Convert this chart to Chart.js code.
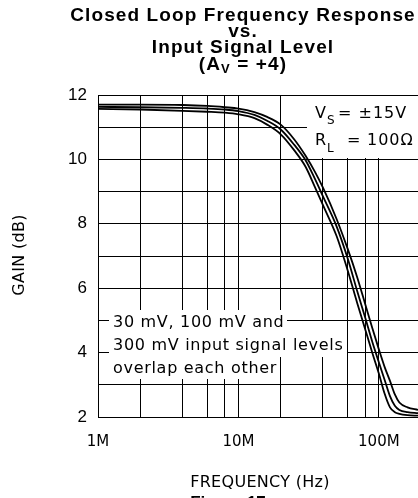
<!DOCTYPE html>
<html>
<head>
<meta charset="utf-8">
<script src="https://cdn.jsdelivr.net/npm/chart.js@4.4.0/dist/chart.umd.min.js"></script>
<style>
  html, body { margin: 0; padding: 0; background: #fff; }
  #wrap { width: 418px; height: 498px; }
</style>
</head>
<body>
<div id="wrap"><canvas id="chart" width="418" height="498"></canvas></div>
<script>
// frequency in MHz
const freqMHz = [1, 2, 4, 6, 8, 10, 13, 16, 20, 25, 30, 35, 40, 50, 60, 70, 80, 90, 100, 110, 120, 130, 140, 160, 190];

// three input levels, they overlap so only read as upper / middle / lower trace
const gainUpper = [11.70, 11.70, 11.69, 11.66, 11.62, 11.58, 11.47, 11.32, 11.08, 10.62, 10.12, 9.62, 9.12, 8.15, 7.22, 6.35, 5.50, 4.75, 4.10, 3.55, 3.12, 2.70, 2.45, 2.30, 2.22];
const gainMiddle = [11.63, 11.62, 11.60, 11.58, 11.55, 11.50, 11.38, 11.20, 10.93, 10.45, 9.98, 9.40, 8.85, 7.92, 6.92, 5.92, 5.08, 4.32, 3.70, 3.15, 2.65, 2.35, 2.22, 2.15, 2.12];
const gainLower = [11.57, 11.55, 11.51, 11.48, 11.45, 11.40, 11.28, 11.08, 10.78, 10.28, 9.78, 9.15, 8.58, 7.62, 6.55, 5.55, 4.72, 3.98, 3.35, 2.72, 2.30, 2.15, 2.10, 2.06, 2.04];

const freqGrid = [1, 2, 4, 6, 8, 10, 20, 40, 60, 80, 100];
const freqTicks = [1, 10, 100];
const gainTicks = [2, 4, 6, 8, 10, 12];

const titleLines = ['Closed Loop Frequency Response', 'vs.', 'Input Signal Level'];
const noteLines = ['30 mV, 100 mV and', '300 mV input signal levels', 'overlap each other'];

const toPoints = (ys) => freqMHz.map((f, i) => ({x: f, y: ys[i]}));

const line = (ys) => ({
    data: toPoints(ys),
    borderColor: '#000',
    borderWidth: 1.8,
    pointRadius: 0,
    fill: false,
    cubicInterpolationMode: 'monotone'
});

const sub = (ctx, parts, x, y) => {
    // parts: [text, font, dy]
    let cx = x;
    parts.forEach(([t, f, dy]) => {
        ctx.font = f;
        ctx.fillText(t, cx, y + dy);
        cx += ctx.measureText(t).width;
    });
};

const textPlugin = {
    id: 'chartText',
    beforeDatasetsDraw(chart) {
        const ctx = chart.ctx;
        ctx.save();
        ctx.fillStyle = '#fff';
        // white boxes behind the notes
        ctx.fillRect(307, 96, 111, 62);
        ctx.fillRect(109, 310, 178, 23);
        ctx.fillRect(109, 321, 238, 36);
        ctx.fillRect(109, 333, 164, 46);
        ctx.restore();
    },
    afterDraw(chart) {
        const ctx = chart.ctx;
        ctx.save();
        ctx.fillStyle = '#000';
        ctx.textBaseline = 'alphabetic';

        // title
        ctx.letterSpacing = '1.1px';
        const big = 'bold 19px "Liberation Sans", Arial, sans-serif';
        const small = 'bold 13px "Liberation Sans", Arial, sans-serif';
        ctx.font = big;
        ctx.textAlign = 'center';
        titleLines.forEach((t, i) => ctx.fillText(t, 243, 21 + i * 16));
        ctx.textAlign = 'left';
        let w = 0;
        ctx.font = big; w += ctx.measureText('(A').width + ctx.measureText(' = +4)').width;
        ctx.font = small; w += ctx.measureText('V').width;
        sub(ctx, [['(A', big, 0], ['V', small, 3], [' = +4)', big, 0]], 243 - w / 2, 70);

        // conditions
        ctx.letterSpacing = '1px';
        const f16 = '16px "DejaVu Sans", sans-serif';
        const f12 = '12px "DejaVu Sans", sans-serif';
        sub(ctx, [['V', f16, 0], ['S', f12, 6]], 315, 118);
        ctx.font = f16;
        ctx.fillText('= \u00b115V', 338, 118);
        sub(ctx, [['R', f16, 0], ['L', f12, 7]], 315, 145);
        ctx.font = f16;
        ctx.fillText('=', 347, 145);
        ctx.fillText('100\u03a9', 367, 145);

        // note
        ctx.letterSpacing = '0.7px';
        noteLines.forEach((t, i) => ctx.fillText(t, 113, 327 + i * 23));

        // axis titles
        ctx.letterSpacing = '0.3px';
        ctx.textAlign = 'center';
        ctx.textBaseline = 'middle';
        ctx.fillText('FREQUENCY (Hz)', 260, 483);
        ctx.save();
        ctx.translate(20, 255);
        ctx.rotate(-Math.PI / 2);
        ctx.fillText('GAIN (dB)', 0, 0);
        ctx.restore();

        ctx.letterSpacing = '0px';
        ctx.textBaseline = 'top';
        ctx.font = 'bold 17px "Liberation Sans", Arial, sans-serif';
        ctx.fillText('Figure 17', 228, 495);
        ctx.restore();
    }
};

const chart = new Chart(document.getElementById('chart'), {
    type: 'line',
    data: {
        datasets: [line(gainUpper), line(gainMiddle), line(gainLower)]
    },
    options: {
        responsive: false,
        animation: false,
        layout: {padding: {top: 95, right: 0, left: 0, bottom: 0}},
        plugins: {
            legend: {display: false},
            tooltip: {enabled: false}
        },
        scales: {
            x: {
                type: 'logarithmic',
                min: 1,
                max: 190,
                afterBuildTicks: (s) => { s.ticks = freqGrid.map(v => ({value: v})); },
                afterFit: (s) => { s.height = 81; s.paddingRight = 0; s.paddingLeft = 0; },
                grid: {color: '#000', lineWidth: 1, drawTicks: false},
                border: {color: '#000', width: 1},
                ticks: {
                    autoSkip: false,
                    maxRotation: 0,
                    padding: 16,
                    color: '#000',
                    font: {family: '"DejaVu Sans", sans-serif', size: 15},
                    callback: (v) => freqTicks.includes(v) ? v + 'M' : ''
                }
            },
            y: {
                min: 2,
                max: 12,
                afterFit: (s) => { s.width = 98; },
                grid: {color: '#000', lineWidth: 1, drawTicks: false},
                border: {color: '#000', width: 1},
                ticks: {
                    stepSize: 1,
                    padding: 11,
                    color: '#000',
                    font: {family: '"Liberation Sans", Arial, sans-serif', size: 17},
                    callback: (v) => gainTicks.includes(v) ? String(v) : ''
                }
            }
        }
    },
    plugins: [textPlugin]
});
</script>
</body>
</html>
